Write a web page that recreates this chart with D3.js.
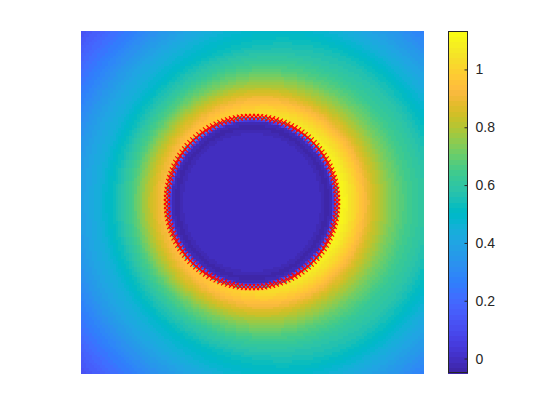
<!DOCTYPE html>
<html>
<head>
<meta charset="utf-8">
<script src="https://cdn.jsdelivr.net/npm/d3@7"></script>
<style>
  body { margin: 0; background: #fff; }
  text { font-family: "Liberation Sans", Arial, sans-serif; }
</style>
</head>
<body>
<div id="chart"></div>
<script>
// field values
// radial profile of the field (distance from the disc centre, domain units -1..1)
var profileRadii  = [0, 0.40, 0.44, 0.47, 0.485, 0.497, 0.505, 0.52, 0.55, 0.60, 0.65, 0.70, 0.80, 0.90, 1.00, 1.20, 1.42];
var profileValues = [-0.01, -0.01, -0.04, -0.02, 0.12, 0.35, 0.95, 1.02, 0.99, 0.92, 0.84, 0.76, 0.64, 0.55, 0.49, 0.34, 0.19];
// east/west offset (right side brighter than left side)
var tiltRadii  = [0, 0.49, 0.505, 1.0, 1.42];
var tiltValues = [0, 0, 0.095, 0.11, 0.11];
// interface markers
var markerRadius = 0.498;
var markerCount = 132;
// colorbar
var colorLimits = [-0.05, 1.133];
var colorTicks = [0, 0.2, 0.4, 0.6, 0.8, 1];
var gridSize = 128;

// parula colormap, 64 entries
var parula = [
  [0.2422,0.1504,0.6603],[0.2504,0.1650,0.7076],[0.2578,0.1818,0.7511],[0.2647,0.1978,0.7952],
  [0.2706,0.2147,0.8364],[0.2751,0.2342,0.8710],[0.2783,0.2559,0.8991],[0.2803,0.2782,0.9221],
  [0.2813,0.3006,0.9414],[0.2810,0.3228,0.9579],[0.2795,0.3447,0.9717],[0.2760,0.3667,0.9829],
  [0.2699,0.3892,0.9906],[0.2602,0.4123,0.9952],[0.2440,0.4358,0.9988],[0.2206,0.4603,0.9973],
  [0.1963,0.4847,0.9892],[0.1834,0.5074,0.9798],[0.1786,0.5289,0.9682],[0.1764,0.5499,0.9520],
  [0.1687,0.5703,0.9359],[0.1540,0.5902,0.9218],[0.1460,0.6091,0.9079],[0.1380,0.6276,0.8973],
  [0.1248,0.6459,0.8883],[0.1113,0.6635,0.8763],[0.0952,0.6798,0.8598],[0.0689,0.6948,0.8394],
  [0.0297,0.7082,0.8163],[0.0036,0.7203,0.7917],[0.0067,0.7312,0.7660],[0.0433,0.7411,0.7394],
  [0.0964,0.7500,0.7120],[0.1408,0.7584,0.6842],[0.1717,0.7670,0.6554],[0.1938,0.7758,0.6251],
  [0.2161,0.7843,0.5923],[0.2470,0.7918,0.5567],[0.2906,0.7973,0.5188],[0.3406,0.8008,0.4789],
  [0.3909,0.8029,0.4354],[0.4456,0.8024,0.3909],[0.5044,0.7993,0.3480],[0.5616,0.7942,0.3045],
  [0.6174,0.7876,0.2612],[0.6720,0.7793,0.2227],[0.7242,0.7698,0.1910],[0.7738,0.7598,0.1646],
  [0.8203,0.7498,0.1535],[0.8634,0.7406,0.1596],[0.9035,0.7330,0.1774],[0.9393,0.7288,0.2100],
  [0.9728,0.7298,0.2394],[0.9956,0.7434,0.2371],[0.9970,0.7659,0.2199],[0.9952,0.7893,0.2028],
  [0.9892,0.8136,0.1885],[0.9786,0.8386,0.1766],[0.9676,0.8639,0.1643],[0.9610,0.8890,0.1537],
  [0.9597,0.9135,0.1423],[0.9628,0.9373,0.1265],[0.9691,0.9606,0.1064],[0.9769,0.9839,0.0805]
].map(c => d3.rgb(c[0] * 255, c[1] * 255, c[2] * 255).formatHex());

var svgWidth = 560, svgHeight = 420;
var plot = { left: 81, top: 31, size: 342 };
var bar = { left: 448, width: 20 };

var svg = d3.select("#chart").append("svg")
  .attr("width", svgWidth)
  .attr("height", svgHeight);

var xScale = d3.scaleLinear().domain([-1, 1]).range([plot.left, plot.left + plot.size]);
var yScale = d3.scaleLinear().domain([1, -1]).range([plot.top, plot.top + plot.size]);
var color = d3.scaleQuantize().domain(colorLimits).range(parula);

var profile = d3.scaleLinear().domain(profileRadii).range(profileValues).clamp(true);
var tilt = d3.scaleLinear().domain(tiltRadii).range(tiltValues).clamp(true);

// build the grid of cells
var step = 2 / gridSize;
var cells = [];
for (var i = 0; i < gridSize; i++) {
  for (var j = 0; j < gridSize; j++) {
    var x = -1 + (i + 0.5) * step;
    var y = -1 + (j + 0.5) * step;
    var r = Math.sqrt(x * x + y * y);
    var v = profile(r) + (r > 0 ? tilt(r) * x / r : 0);
    cells.push({ x: x, y: y, value: v });
  }
}

var cellW = xScale(step) - xScale(0);
svg.append("g")
  .attr("shape-rendering", "crispEdges")
  .selectAll("rect")
  .data(cells)
  .enter()
  .append("rect")
  .attr("x", d => xScale(d.x - step / 2))
  .attr("y", d => yScale(d.y + step / 2))
  .attr("width", cellW + 0.5)
  .attr("height", cellW + 0.5)
  .attr("fill", d => color(d.value));

// red x markers along the interface
var markers = d3.range(markerCount).map(k => {
  var a = 2 * Math.PI * k / markerCount;
  return { x: markerRadius * Math.cos(a), y: markerRadius * Math.sin(a) };
});
svg.append("g")
  .selectAll("path")
  .data(markers)
  .enter()
  .append("path")
  .attr("transform", d => `translate(${xScale(d.x)},${yScale(d.y)})`)
  .attr("d", "M-3,-3L3,3M-3,3L3,-3")
  .attr("stroke", "#ff0000")
  .attr("stroke-width", 1.1)
  .attr("fill", "none");

// colorbar
var barScale = d3.scaleLinear().domain(colorLimits).range([plot.top + plot.size, plot.top]);
var bandH = (colorLimits[1] - colorLimits[0]) / parula.length;
svg.append("g")
  .attr("shape-rendering", "crispEdges")
  .selectAll("rect")
  .data(parula)
  .enter()
  .append("rect")
  .attr("x", bar.left)
  .attr("y", (d, k) => barScale(colorLimits[0] + (k + 1) * bandH))
  .attr("width", bar.width)
  .attr("height", barScale(0) - barScale(bandH) + 0.5)
  .attr("fill", d => d);

svg.append("rect")
  .attr("x", bar.left + 0.5)
  .attr("y", plot.top + 0.5)
  .attr("width", bar.width - 1)
  .attr("height", plot.size - 1)
  .attr("fill", "none")
  .attr("stroke", "#262626")
  .attr("stroke-width", 1);

var barAxis = d3.axisRight(barScale)
  .tickValues(colorTicks)
  .tickSizeInner(-3)
  .tickSizeOuter(0)
  .tickPadding(8)
  .tickFormat(d3.format("~g"));

var axisG = svg.append("g")
  .attr("transform", `translate(${bar.left + bar.width - 0.5},0)`)
  .call(barAxis);
axisG.select(".domain").remove();
axisG.selectAll("line").attr("stroke", "#262626");
axisG.selectAll("text")
  .attr("fill", "#262626")
  .style("font-size", "14px")
  .style("font-family", "'Liberation Sans', Arial, sans-serif");
</script>
</body>
</html>
